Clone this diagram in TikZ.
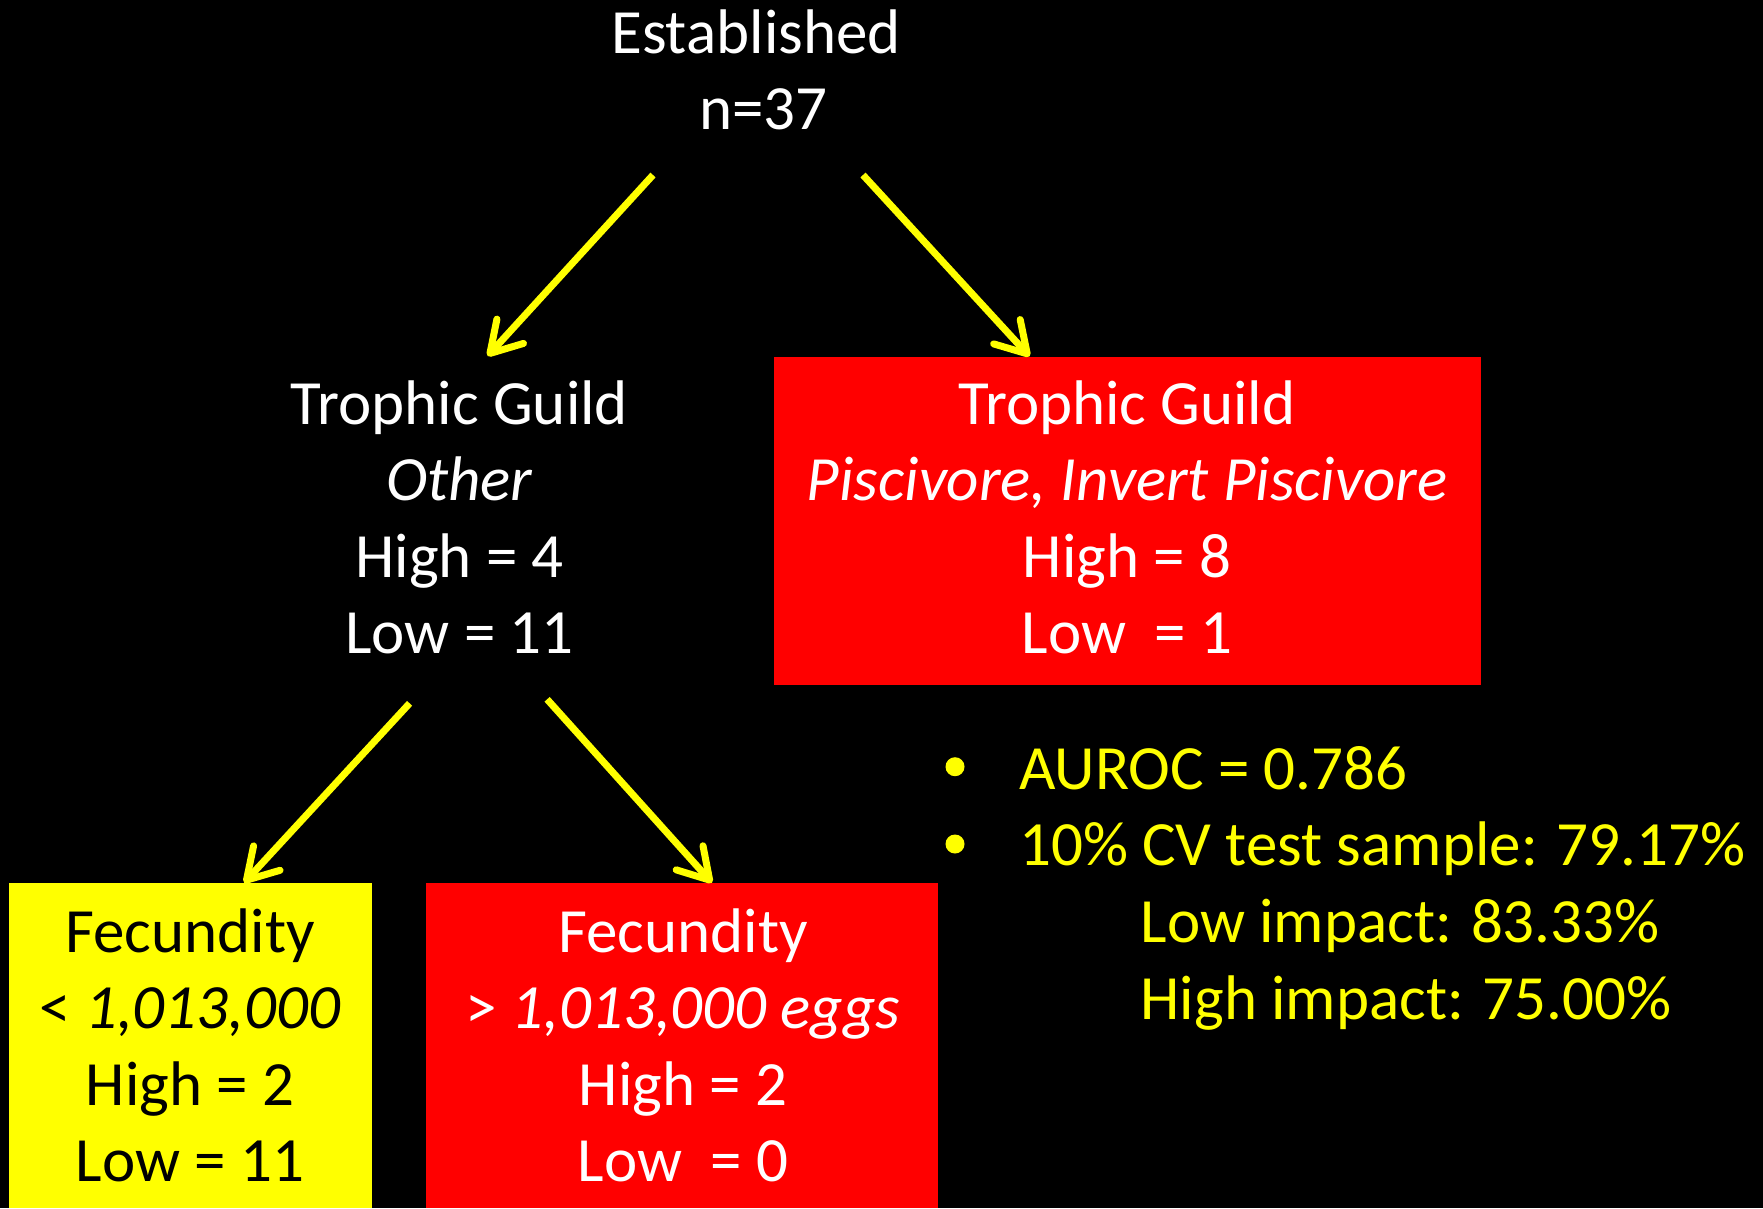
\documentclass[tikz,border=0pt]{standalone}
\usepackage{fontspec}
\setmainfont{Carlito}
\usetikzlibrary{arrows.meta,calc}
\definecolor{hiYellow}{RGB}{255,255,0}
\definecolor{hiRed}{RGB}{255,0,0}

\begin{document}
\begin{tikzpicture}[x=1pt,y=-1pt,
  txt/.style={font=\fontsize{63}{76.5}\selectfont, text=white, align=center, inner sep=0pt, anchor=base},
  stat/.style={font=\fontsize{63}{76.5}\selectfont, text=hiYellow, inner sep=0pt, anchor=base west},
  box/.style={fill=hiRed, inner sep=0pt, anchor=north west},
  arr/.style={draw=hiYellow, line width=7pt,
    -{Straight Barb[length=30pt,width=36pt,round]}},
  dot/.style={circle, fill=hiYellow, inner sep=0pt, minimum size=19pt}]

% page background
\fill[black] (0,0) rectangle (1763,1208);
\useasboundingbox (0,0) rectangle (1763,1208);

% coloured leaf boxes
\node[box, minimum width=707.3pt, minimum height=328.4pt] (pbox) at (773.6,356.4) {};
\node[box, fill=hiYellow, minimum width=362.3pt, minimum height=325.3pt] (ybox) at (9.1,882.7) {};
\node[box, minimum width=512pt, minimum height=325.3pt] (rbox) at (426,882.7) {};

% root (the base anchor of a multi-line node is its last line)
\node[txt] (est) at (756,53) {Established};
\node[txt] (n37) at (763.5,129) {n=37};

% second level
\node[txt] (oth) at (459.5,653.5) {Trophic Guild\\\textit{Other}\\High = 4\\Low = 11};
\node[txt] (pisc) at (1127,653.5) {Trophic Guild\\\textit{Piscivore, Invert Piscivore}\\High = 8\\Low\ \ = 1};

% third level
\node[txt, text=black] (fecl) at (190,1181.8) {Fecundity\\< \textit{1,013,000}\\High = 2\\Low = 11};
\node[txt] (fech) at (683,1181.8) {Fecundity\\> \textit{1,013,000 eggs}\\High = 2\\Low\ \ = 0};

% connectors
\draw[arr] ($(n37.base)+(-110.5,46)$) -- ($(oth.base)+(28.1,-297.5)$);
\draw[arr] ($(n37.base)+(99.5,46)$) -- ($(pbox.north west)+(256,0)$);
\draw[arr] ($(oth.base)+(-49.9,49.8)$) -- ($(ybox.north west)+(235,0)$);
\draw[arr] ($(oth.base)+(87.6,45.8)$) -- ($(rbox.north west)+(286,0)$);

% model summary
\node[dot] (b1) at (955,766.7) {};
\node[dot] (b2) at (955,844) {};
\node[stat] (auroc) at (1019,789) {AUROC = 0.786};
\node[stat] (cv) at (1019,865.7) {10\% CV test sample: 79.17\%};
\node[stat] (lowi) at (1140.5,942.3) {Low impact: 83.33\%};
\node[stat] (highi) at (1140.5,1019) {High impact: 75.00\%};
\end{tikzpicture}
\end{document}
